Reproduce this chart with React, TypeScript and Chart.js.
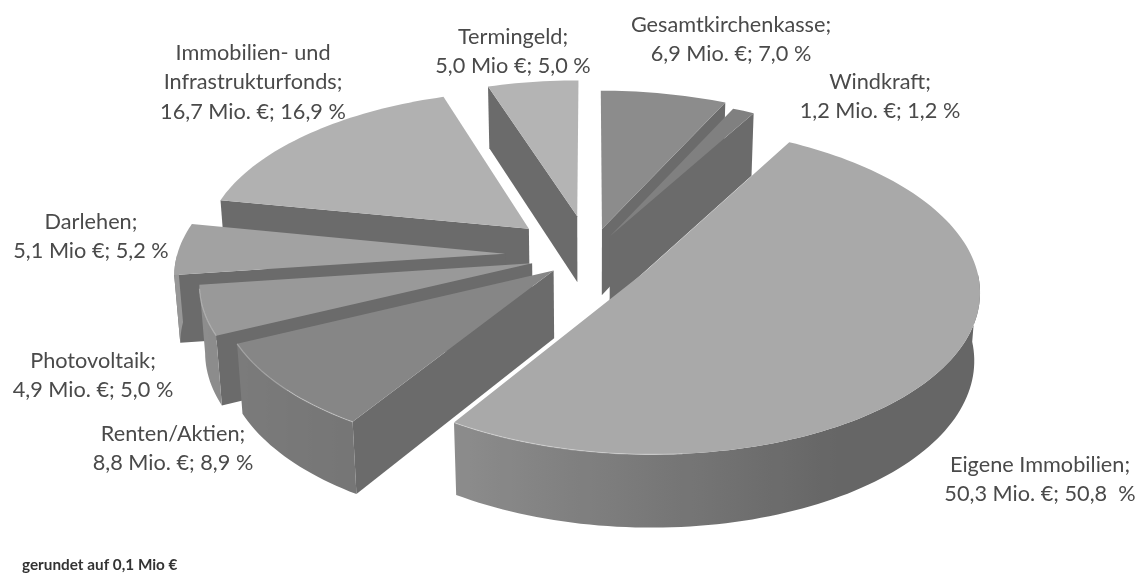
import React, { useEffect, useRef } from "react";
import { Chart, registerables } from "chart.js";

Chart.register(...registerables);

const categories = ["Gesamtkirchenkasse", "Windkraft", "Eigene Immobilien", "Renten/Aktien", "Photovoltaik", "Darlehen", "Immobilien- und Infrastrukturfonds", "Termingeld"];
const valuesMio = [6.9, 1.2, 50.3, 8.8, 4.9, 5.1, 16.7, 5.0];
const topColors = ["#8c8c8c", "#808080", "#a9a9a9", "#868686", "#999999", "#a2a2a2", "#b1b1b1", "#b4b4b4"];
const explode = [56, 44, 64, 48, 60, 85, 83, 83];
const labelLines = [
  ["Gesamtkirchenkasse;", "6,9 Mio. €; 7,0 %"],
  ["Windkraft;", "1,2 Mio. €; 1,2 %"],
  ["Eigene Immobilien;", "50,3 Mio. €; 50,8  %"],
  ["Renten/Aktien;", "8,8 Mio. €; 8,9 %"],
  ["Photovoltaik;", "4,9 Mio. €; 5,0 %"],
  ["Darlehen;", "5,1 Mio €; 5,2 %"],
  ["Immobilien- und", "Infrastrukturfonds;", "16,7 Mio. €; 16,9 %"],
  ["Termingeld;", "5,0 Mio €; 5,0 %"],
];
const labelAnchors = [[731, 25], [880, 82], [1040, 465], [173, 434], [93, 361], [91, 222], [253, 53], [513, 37]];
const footnote = "gerundet auf 0,1 Mio €";

const SIN_TILT = 0.485;
const COS_TILT = Math.sqrt(1 - SIN_TILT * SIN_TILT);
const FOCAL = 2583;
const HEIGHT = 78;
const WALL = "#6b6b6b";

function gray(hex: string) {
  return parseInt(hex.slice(1, 3), 16);
}

const pie3d = {
  id: "pie3d",
  beforeDatasetsDraw(chart: any) {
    const ctx: CanvasRenderingContext2D = chart.ctx;
    const arcs = chart.getDatasetMeta(0).data;
    const project = (cx: number, cy: number, X: number, Y: number, Z: number) => {
      const d = Y * COS_TILT + Z * SIN_TILT;
      const p = FOCAL / (FOCAL - d);
      return [cx + X * p, cy + (Y * SIN_TILT - Z * COS_TILT) * p];
    };
    const slices = arcs.map((el: any, i: number) => {
      const { startAngle, endAngle, outerRadius, x, y } = el.getProps(["startAngle", "endAngle", "outerRadius", "x", "y"], true);
      const mid = (startAngle + endAngle) / 2;
      const off = el.options.offset;
      const ox = Math.cos(mid) * off;
      const oy = Math.sin(mid) * off;
      const n = Math.max(4, Math.ceil((endAngle - startAngle) * 40));
      const rim: { X: number; Y: number; a: number }[] = [];
      for (let k = 0; k <= n; k++) {
        const a = startAngle + ((endAngle - startAngle) * k) / n;
        rim.push({ X: ox + outerRadius * Math.cos(a), Y: oy + outerRadius * Math.sin(a), a });
      }
      const depth = (rim.reduce((s, r) => s + r.Y, 0) + oy) / (rim.length + 1);
      return { i, x, y, ox, oy, rim, depth, startAngle, endAngle };
    });
    slices.sort((a: any, b: any) => a.depth - b.depth);

    for (const s of slices) {
      const P = (X: number, Y: number, Z: number) => project(s.x, s.y, X, Y, Z);
      const base = gray(topColors[s.i]);
      const first = s.rim[0];
      const last = s.rim[s.rim.length - 1];

      // radial cut walls that face the viewer
      const walls = [
        { r: first, visible: -Math.cos(s.startAngle) > 0 },
        { r: last, visible: Math.cos(s.endAngle) > 0 },
      ];
      for (const { r, visible } of walls) {
        if (!visible) continue;
        const q = [P(s.ox, s.oy, 0), P(r.X, r.Y, 0), P(r.X, r.Y, -HEIGHT), P(s.ox, s.oy, -HEIGHT)];
        ctx.beginPath();
        q.forEach((pt, k) => (k ? ctx.lineTo(pt[0], pt[1]) : ctx.moveTo(pt[0], pt[1])));
        ctx.closePath();
        ctx.fillStyle = WALL;
        ctx.fill();
      }

      // outer wall (front-facing part only), shaded by facing direction
      const topPts = s.rim.map((r: any) => P(r.X, r.Y, 0));
      const frontIdx = s.rim.map((r: any, k: number) => (Math.sin(r.a) > 0 ? k : -1)).filter((k: number) => k >= 0);
      if (frontIdx.length > 1) {
        const ftop = frontIdx.map((k: number) => topPts[k]);
        const fbot = frontIdx.map((k: number) => P(s.rim[k].X, s.rim[k].Y, -HEIGHT));
        const xs = ftop.map((p: number[]) => p[0]);
        const minX = Math.min(...xs);
        const maxX = Math.max(...xs);
        const grad = ctx.createLinearGradient(minX, 0, maxX, 0);
        const shade = (a: number) => {
          const nx = Math.cos(a);
          const t = Math.min(1, Math.max(0, (nx + 1) / 1.5));
          const v = Math.round(base * 0.93 * (1 - t) + 102 * t);
          return `rgb(${v},${v},${v})`;
        };
        frontIdx.forEach((k: number, j: number) => {
          const pos = (ftop[j][0] - minX) / (maxX - minX);
          grad.addColorStop(Math.min(1, Math.max(0, pos)), shade(s.rim[k].a));
        });
        ctx.beginPath();
        ftop.forEach((p: number[], k: number) => (k ? ctx.lineTo(p[0], p[1]) : ctx.moveTo(p[0], p[1])));
        for (let k = fbot.length - 1; k >= 0; k--) ctx.lineTo(fbot[k][0], fbot[k][1]);
        ctx.closePath();
        ctx.fillStyle = grad;
        ctx.fill();
      }

      // top face
      const apex = P(s.ox, s.oy, 0);
      ctx.beginPath();
      ctx.moveTo(apex[0], apex[1]);
      topPts.forEach((p: number[]) => ctx.lineTo(p[0], p[1]));
      ctx.closePath();
      ctx.fillStyle = topColors[s.i];
      ctx.fill();

      // light bevel along the front-left rim
      ctx.beginPath();
      let started = false;
      s.rim.forEach((r: any, k: number) => {
        if (Math.sin(r.a) > 0.15 && Math.cos(r.a) < 0.1) {
          const p = topPts[k];
          if (started) ctx.lineTo(p[0], p[1]);
          else ctx.moveTo(p[0], p[1]);
          started = true;
        }
      });
      ctx.strokeStyle = "rgba(255,255,255,0.3)";
      ctx.lineWidth = 1.2;
      ctx.stroke();
    }
    return false;
  },
  afterDraw(chart: any) {
    const ctx: CanvasRenderingContext2D = chart.ctx;
    ctx.save();
    ctx.fillStyle = "#4a4a4a";
    ctx.font = '21.7px Lato, "Open Sans", sans-serif';
    ctx.textAlign = "center";
    ctx.textBaseline = "middle";
    labelLines.forEach((lines, i) => {
      lines.forEach((line, k) => {
        ctx.fillText(line, labelAnchors[i][0], labelAnchors[i][1] + k * 29.5);
      });
    });
    ctx.textAlign = "left";
    ctx.fillStyle = "#333333";
    ctx.font = 'bold 15.3px Lato, "Open Sans", sans-serif';
    ctx.fillText(footnote, 22, 565);
    ctx.restore();
  },
};

export default function App() {
  const ref = useRef<HTMLCanvasElement>(null);
  useEffect(() => {
    const chart = new Chart(ref.current!, {
      type: "pie",
      data: {
        labels: categories,
        datasets: [{ data: valuesMio, backgroundColor: topColors, offset: explode, borderWidth: 0 }],
      },
      options: {
        animation: false,
        responsive: false,
        radius: 328,
        layout: { padding: { left: 43, right: 0, top: 0, bottom: 66 } },
        plugins: { legend: { display: false }, tooltip: { enabled: false } },
      } as any,
      plugins: [pie3d as any],
    });
    return () => chart.destroy();
  }, []);
  return (
    <canvas
      ref={ref}
      width={1137}
      height={576}
      style={{ position: "absolute", left: 0, top: 0, display: "block", background: "#ffffff" }}
    />
  );
}
